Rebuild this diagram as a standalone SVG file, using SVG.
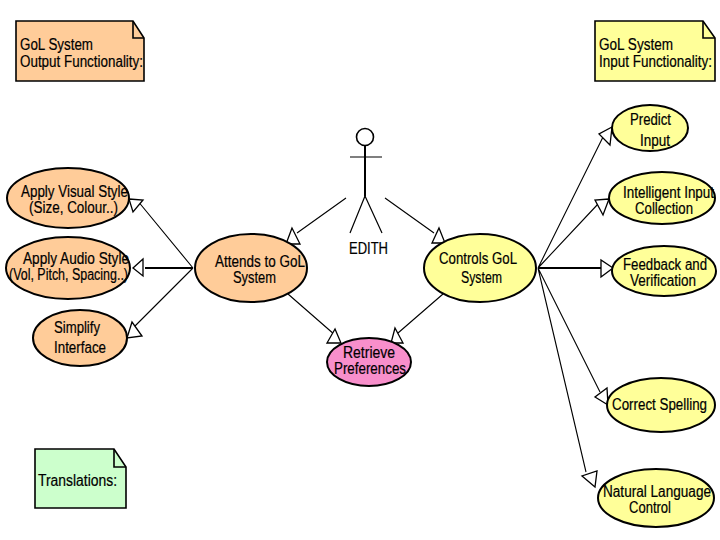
<svg xmlns="http://www.w3.org/2000/svg" width="720" height="540" viewBox="0 0 720 540">
<defs>
<style>
text{font-family:"Liberation Sans",Arial,sans-serif;font-size:16px;fill:#000;text-anchor:start;stroke:#000;stroke-width:.2px}
.u{stroke:#000;stroke-width:2}
.o{fill:#ffcc99}.y{fill:#ffff99}.g{fill:#ccffcc}.p{fill:#f88fcb}
.n{stroke:#000;stroke-width:1.6}
.c{fill:none;stroke:#000;stroke-width:1.1}
.h{fill:none;stroke:#000;stroke-width:2}
.a{fill:#fff;stroke:#000;stroke-width:1.3}
</style>
</defs>
<rect width="720" height="540" fill="#fff"/>
<g id="connectors">
<path class="c" d="M346 198 297 233M385 198 434 233M193 268 137 200M193 268 135 326M288 294 335 335M443 294 398 333M538 268 605 133M538 268 598 204M538 268 600 392M538 268 586 472"/>
<path class="h" d="M193 268H145M538 268H601"/>
<path class="a" d="M292 228 286 244 300 244Z"/>
<path class="a" d="M439 228 445 243 432 243Z"/>
<path class="a" d="M129 199 143 200 133 212Z"/>
<path class="a" d="M133 268 143 259V276Z"/>
<path class="a" d="M127 338 132 322 142 336Z"/>
<path class="a" d="M335 329 327 343 341 343Z"/>
<path class="a" d="M395 328 391 343 403 343Z"/>
<path class="a" d="M612 127 599 134 610 145Z"/>
<path class="a" d="M609 199 595 200 603 215Z"/>
<path class="a" d="M613 268 601 260V277Z"/>
<path class="a" d="M608 405 595 397 607 388Z"/>
<path class="a" d="M595 487 582 476 597 471Z"/>
</g>
<g id="note-output"><path class="o n" d="M16 21H133L144 38V81H16Z"/><path class="n" fill="none" d="M133 21V38H144"/><text x="20" y="50" textLength="73" lengthAdjust="spacingAndGlyphs">GoL System</text><text x="20" y="67" textLength="123" lengthAdjust="spacingAndGlyphs">Output Functionality:</text></g>
<g id="note-input"><path class="y n" d="M595 21H703L715 38V81H595Z"/><path class="n" fill="none" d="M703 21V38H715"/><text x="599" y="50" textLength="74" lengthAdjust="spacingAndGlyphs">GoL System</text><text x="599" y="67" textLength="113" lengthAdjust="spacingAndGlyphs">Input Functionality:</text></g>
<g id="note-translations"><path class="g n" d="M35 449H114L126 467V508H35Z"/><path class="n" fill="none" d="M114 449V467H126"/><text x="38" y="486" textLength="79" lengthAdjust="spacingAndGlyphs">Translations:</text></g>
<g id="actor-edith">
<circle cx="365" cy="137" r="8.500" fill="#fff" stroke="#000" stroke-width="1.600"/>
<path class="u" fill="none" d="M365 146V196"/>
<path fill="none" stroke="#000" stroke-width="1.200" d="M350 157H382M365 196 350 233M365 196 382 233"/>
<text x="349" y="254" textLength="39" lengthAdjust="spacingAndGlyphs">EDITH</text>
</g>
<g id="uc-visual"><ellipse class="o u" cx="68" cy="198" rx="61" ry="30"/><text x="21" y="197" textLength="107" lengthAdjust="spacingAndGlyphs">Apply Visual Style</text><text x="29" y="213" textLength="89" lengthAdjust="spacingAndGlyphs">(Size, Colour..)</text></g>
<g id="uc-audio"><ellipse class="o u" cx="68" cy="268" rx="62" ry="31"/><text x="23" y="264" textLength="106" lengthAdjust="spacingAndGlyphs">Apply Audio Style</text><text x="9" y="280" textLength="119" lengthAdjust="spacingAndGlyphs">(Vol, Pitch, Spacing..)</text></g>
<g id="uc-simplify"><ellipse class="o u" cx="80" cy="338" rx="47" ry="28"/><text x="54" y="333" textLength="46" lengthAdjust="spacingAndGlyphs">Simplify</text><text x="54" y="353" textLength="52" lengthAdjust="spacingAndGlyphs">Interface</text></g>
<g id="uc-attends"><ellipse class="o u" cx="251" cy="268" rx="56" ry="34"/><text x="215" y="267" textLength="90" lengthAdjust="spacingAndGlyphs">Attends to GoL</text><text x="233" y="283" textLength="43" lengthAdjust="spacingAndGlyphs">System</text></g>
<g id="uc-controls"><ellipse class="y u" cx="480" cy="268" rx="56" ry="34"/><text x="439" y="264" textLength="78" lengthAdjust="spacingAndGlyphs">Controls GoL</text><text x="461" y="283" textLength="41" lengthAdjust="spacingAndGlyphs">System</text></g>
<g id="uc-retrieve"><ellipse class="p u" cx="369" cy="362" rx="42" ry="24"/><text x="343" y="358" textLength="52" lengthAdjust="spacingAndGlyphs">Retrieve</text><text x="334" y="374" textLength="72" lengthAdjust="spacingAndGlyphs">Preferences</text></g>
<g id="uc-predict"><ellipse class="y u" cx="650" cy="128" rx="38" ry="23"/><text x="630" y="125" textLength="41" lengthAdjust="spacingAndGlyphs">Predict</text><text x="640" y="146" textLength="30" lengthAdjust="spacingAndGlyphs">Input</text></g>
<g id="uc-intelligent"><ellipse class="y u" cx="662" cy="198" rx="53" ry="26"/><text x="623" y="198" textLength="91" lengthAdjust="spacingAndGlyphs">Intelligent Input</text><text x="635" y="214" textLength="58" lengthAdjust="spacingAndGlyphs">Collection</text></g>
<g id="uc-feedback"><ellipse class="y u" cx="664" cy="271" rx="52" ry="25"/><text x="623" y="270" textLength="84" lengthAdjust="spacingAndGlyphs">Feedback and</text><text x="630" y="286" textLength="66" lengthAdjust="spacingAndGlyphs">Verification</text></g>
<g id="uc-correct"><ellipse class="y u" cx="661" cy="405" rx="54" ry="27"/><text x="612" y="410" textLength="95" lengthAdjust="spacingAndGlyphs">Correct Spelling</text></g>
<g id="uc-natural"><ellipse class="y u" cx="656" cy="498" rx="58" ry="29"/><text x="603" y="497" textLength="108" lengthAdjust="spacingAndGlyphs">Natural Language</text><text x="629" y="513" textLength="42" lengthAdjust="spacingAndGlyphs">Control</text></g>
</svg>
